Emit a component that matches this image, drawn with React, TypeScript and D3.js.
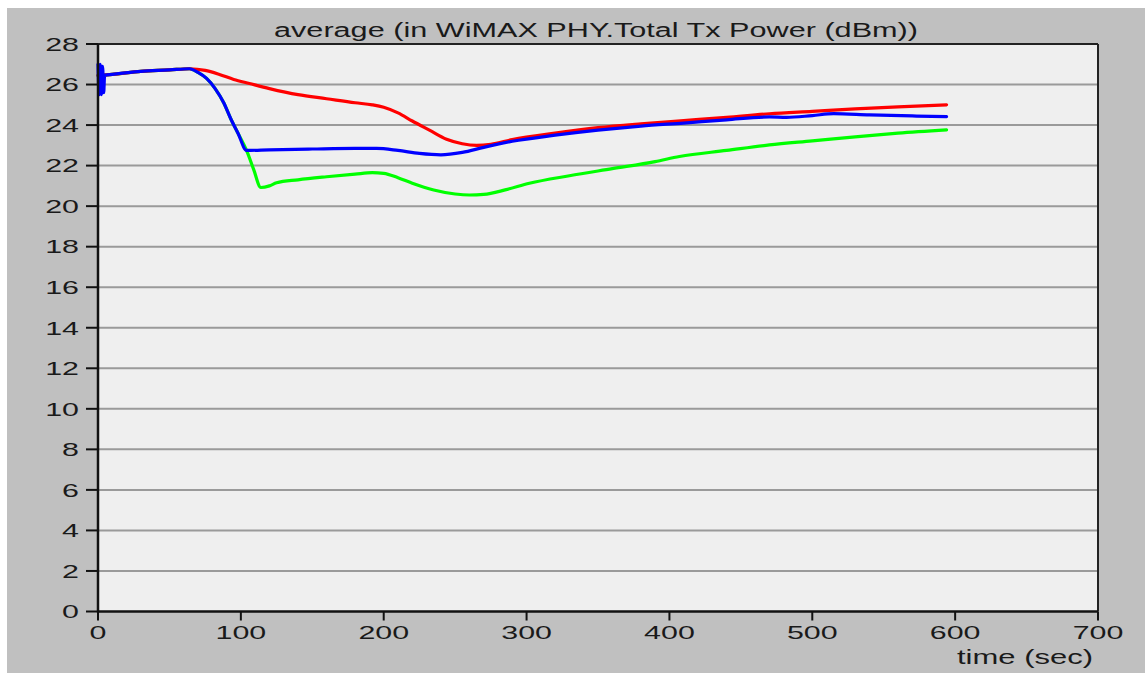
import React from "react";
import * as d3 from "d3";

// time (sec) / average total Tx power (dBm)
const blueSeries: [number, number][] = [
  [0, 27.0], [0.8, 25.5], [1.6, 27.0], [2.4, 25.5], [3.2, 26.9], [4, 25.6], [4.6, 26.45],
  [10, 26.5], [30, 26.65], [50, 26.72], [64, 26.78], [70, 26.6], [76, 26.3],
  [82, 25.8], [88, 25.1], [93, 24.3], [98, 23.6], [104, 22.75], [120, 22.78],
  [150, 22.82], [180, 22.85], [195, 22.85], [210, 22.75], [225, 22.6],
  [240, 22.53], [255, 22.65], [270, 22.9], [290, 23.2], [320, 23.5],
  [350, 23.75], [380, 23.95], [410, 24.1], [440, 24.26], [470, 24.4],
  [482, 24.38], [500, 24.47], [515, 24.56], [540, 24.5], [570, 24.45], [594, 24.42],
];

const redSeries: [number, number][] = [
  [0, 26.45], [10, 26.5], [30, 26.65], [50, 26.72], [64, 26.78], [75, 26.7],
  [85, 26.5], [95, 26.25], [106, 26.05], [120, 25.8], [140, 25.5], [160, 25.3],
  [180, 25.1], [192, 25.0], [200, 24.88], [210, 24.6], [220, 24.2], [232, 23.75],
  [244, 23.3], [255, 23.08], [265, 23.0], [275, 23.05], [290, 23.28],
  [320, 23.6], [350, 23.87], [380, 24.06], [410, 24.22], [440, 24.38],
  [470, 24.56], [500, 24.68], [530, 24.8], [560, 24.9], [594, 25.0],
];

const greenSeries: [number, number][] = [
  [0, 26.45], [10, 26.5], [30, 26.65], [50, 26.72], [64, 26.78], [70, 26.6],
  [76, 26.3], [82, 25.8], [88, 25.1], [93, 24.3], [98, 23.6], [104, 22.75],
  [109, 21.8], [114, 20.92], [120, 21.0], [125, 21.15], [140, 21.3],
  [160, 21.45], [180, 21.58], [192, 21.65], [200, 21.62], [210, 21.4],
  [220, 21.13], [235, 20.8], [250, 20.6], [260, 20.55], [270, 20.58],
  [285, 20.8], [302, 21.13], [330, 21.5], [360, 21.85], [390, 22.2],
  [407, 22.45], [440, 22.75], [470, 23.02], [500, 23.22], [530, 23.42],
  [560, 23.6], [594, 23.76],
];

const xTicks = [0, 100, 200, 300, 400, 500, 600, 700];
const yTicks = [0, 2, 4, 6, 8, 10, 12, 14, 16, 18, 20, 22, 24, 26, 28];

const titleText = "average (in WiMAX PHY.Total Tx Power (dBm))";
const xLabel = "time (sec)";

const W = 1145;
const H = 675;
const plot = { left: 98, right: 1098, top: 44, bottom: 611.5 };
const FONT = "'Liberation Sans', Arial, sans-serif";

export default function App() {
  const x = d3.scaleLinear().domain([0, 700]).range([plot.left, plot.right]);
  const y = d3.scaleLinear().domain([0, 28]).range([plot.bottom, plot.top]);

  const line = d3
    .line<[number, number]>()
    .x((d) => x(d[0]))
    .y((d) => y(d[1]))
    .curve(d3.curveMonotoneX);

  const series = [
    { data: greenSeries, color: "#00ff00" },
    { data: redSeries, color: "#ff0000" },
    { data: blueSeries, color: "#0000ff" },
  ];

  return (
    <svg
      width={W}
      height={H}
      style={{ position: "absolute", left: 0, top: 0, background: "#fff" }}
      fontFamily={FONT}
    >
      <rect x={7} y={8} width={W - 7} height={665} fill="#c0c0c0" />
      <rect
        x={plot.left}
        y={plot.top}
        width={plot.right - plot.left}
        height={plot.bottom - plot.top}
        fill="#efefef"
      />

      {/* grid */}
      {yTicks.slice(1, -1).map((t) => (
        <line
          key={"g" + t}
          x1={plot.left}
          x2={plot.right}
          y1={y(t)}
          y2={y(t)}
          stroke="#9a9a9a"
          strokeWidth={2}
        />
      ))}

      {/* series */}
      {series.map((s, i) => (
        <path
          key={i}
          d={line(s.data) || ""}
          fill="none"
          stroke={s.color}
          strokeWidth={3.2}
          strokeLinejoin="round"
          strokeLinecap="round"
        />
      ))}

      {/* frame */}
      <line x1={plot.left} x2={plot.right} y1={plot.top} y2={plot.top} stroke="#222" strokeWidth={2} />
      <line x1={plot.right} x2={plot.right} y1={plot.top} y2={plot.bottom} stroke="#222" strokeWidth={2} />
      <line x1={plot.left} x2={plot.left} y1={plot.top} y2={plot.bottom + 1} stroke="#111" strokeWidth={2.5} />
      <line x1={plot.left} x2={plot.right} y1={plot.bottom} y2={plot.bottom} stroke="#111" strokeWidth={2.5} />

      {/* y axis */}
      {yTicks.map((t) => (
        <g key={"y" + t}>
          <line x1={86} x2={plot.left} y1={y(t)} y2={y(t)} stroke="#111" strokeWidth={2} />
          <text
            transform={`translate(79,${y(t) + 6.8}) scale(1.6,1)`}
            textAnchor="end"
            fontSize={19}
            fill="#1a1a1a"
          >
            {t}
          </text>
        </g>
      ))}

      {/* x axis */}
      {xTicks.map((t) => (
        <g key={"x" + t}>
          <line x1={x(t)} x2={x(t)} y1={plot.bottom} y2={plot.bottom + 9} stroke="#111" strokeWidth={2} />
          <text
            transform={`translate(${x(t)},638.5) scale(1.6,1)`}
            textAnchor="middle"
            fontSize={19}
            fill="#1a1a1a"
          >
            {t}
          </text>
        </g>
      ))}

      <text
        x={274}
        y={37}
        fontSize={20}
        textLength={644}
        lengthAdjust="spacingAndGlyphs"
        fill="#1a1a1a"
      >
        {titleText}
      </text>
      <text
        x={957}
        y={664}
        fontSize={20}
        textLength={136}
        lengthAdjust="spacingAndGlyphs"
        fill="#1a1a1a"
      >
        {xLabel}
      </text>
    </svg>
  );
}
